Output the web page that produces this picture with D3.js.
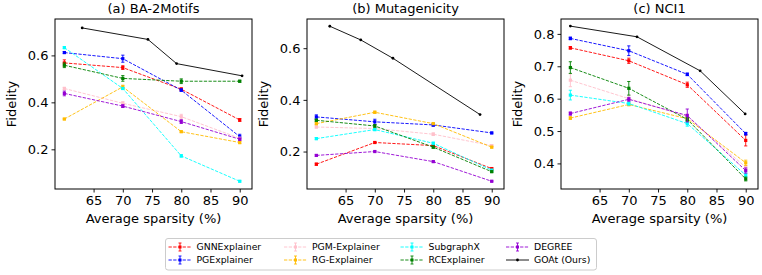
<!DOCTYPE html>
<html>
<head>
<meta charset="utf-8">
<script src="https://cdn.jsdelivr.net/npm/d3@7"></script>
<style>
  body { margin: 0; background: #fff; }
  text { font-family: "DejaVu Sans", sans-serif; }
</style>
</head>
<body>
<script>
const width = 762;
const height = 275;

const sparsity = [60, 70, 80, 90];
const methods = ["GNNExplainer", "PGExplainer", "PGM-Explainer", "RG-Explainer", "SubgraphX", "RCExplainer", "DEGREE"];
const colors = ["#ff0000", "#0000ff", "#ffc0cb", "#ffbb00", "#00ffff", "#008000", "#9400d3"];
const xTicks = [65, 70, 75, 80, 85, 90];

// (a) BA-2Motifs, rows follow methods
const baFidelity = [
  [0.568, 0.548, 0.456, 0.325],
  [0.612, 0.586, 0.452, 0.254],
  [0.459, 0.396, 0.339, 0.247],
  [0.329, 0.466, 0.275, 0.229],
  [0.633, 0.459, 0.172, 0.064],
  [0.558, 0.502, 0.490, 0.490],
  [0.438, 0.384, 0.318, 0.243]
];
const baError = [
  [0.013, 0.008, 0.006, 0.006],
  [0.004, 0.015, 0.005, 0.010],
  [0.005, 0.007, 0.010, 0.004],
  [0.003, 0.007, 0.003, 0.005],
  [0.004, 0.004, 0.005, 0.003],
  [0.010, 0.012, 0.010, 0.004],
  [0.010, 0.006, 0.008, 0.005]
];
const baGoatX = [63.05, 74.3, 79.2, 90.4];
const baGoatY = [0.717, 0.668, 0.565, 0.513];

// (b) Mutagenicity
const mutFidelity = [
  [0.151, 0.235, 0.223, 0.134],
  [0.334, 0.315, 0.303, 0.272],
  [0.295, 0.289, 0.267, 0.223],
  [0.308, 0.352, 0.308, 0.217],
  [0.250, 0.285, 0.232, 0.128],
  [0.321, 0.299, 0.217, 0.122],
  [0.185, 0.200, 0.161, 0.085]
];
const mutError = [
  [0.004, 0.003, 0.003, 0.003],
  [0.008, 0.010, 0.005, 0.003],
  [0.004, 0.003, 0.005, 0.003],
  [0.004, 0.004, 0.003, 0.003],
  [0.004, 0.004, 0.004, 0.003],
  [0.004, 0.005, 0.004, 0.003],
  [0.003, 0.002, 0.002, 0.002]
];
const mutGoatX = [62.3, 67.6, 73.1, 88.0];
const mutGoatY = [0.685, 0.632, 0.561, 0.343];

// (c) NCI1
const nciFidelity = [
  [0.757, 0.717, 0.643, 0.471],
  [0.786, 0.748, 0.675, 0.492],
  [0.657, 0.600, 0.545, 0.388],
  [0.540, 0.582, 0.538, 0.402],
  [0.611, 0.585, 0.523, 0.364],
  [0.696, 0.632, 0.536, 0.352],
  [0.554, 0.598, 0.548, 0.378]
];
const nciError = [
  [0.004, 0.008, 0.008, 0.017],
  [0.004, 0.015, 0.004, 0.004],
  [0.020, 0.010, 0.008, 0.005],
  [0.004, 0.004, 0.006, 0.008],
  [0.015, 0.005, 0.008, 0.006],
  [0.018, 0.021, 0.006, 0.006],
  [0.005, 0.006, 0.020, 0.008]
];
const nciGoatX = [60.0, 71.4, 82.2, 89.9];
const nciGoatY = [0.824, 0.791, 0.686, 0.553];

const panels = [
  { title: "(a) BA-2Motifs", left: 55, fid: baFidelity, err: baError, gx: baGoatX, gy: baGoatY,
    yDomain: [0.031, 0.755], yTicks: [0.2, 0.4, 0.6], labelX: 11 },
  { title: "(b) Mutagenicity", left: 307, fid: mutFidelity, err: mutError, gx: mutGoatX, gy: mutGoatY,
    yDomain: [0.055, 0.713], yTicks: [0.2, 0.4, 0.6], labelX: 263 },
  { title: "(c) NCI1", left: 561, fid: nciFidelity, err: nciError, gx: nciGoatX, gy: nciGoatY,
    yDomain: [0.321, 0.846], yTicks: [0.4, 0.5, 0.6, 0.7, 0.8], labelX: 517 }
];

const plotW = 197;
const plotTop = 19;
const plotBottom = 189;

const svg = d3.select("body").append("svg").attr("width", width).attr("height", height);

panels.forEach((p) => {
  const x = d3.scaleLinear().domain([58.4, 92.1]).range([p.left, p.left + plotW]);
  const y = d3.scaleLinear().domain(p.yDomain).range([plotBottom, plotTop]);
  const g = svg.append("g");

  // title
  g.append("text")
    .attr("x", p.left + plotW / 2)
    .attr("y", 13)
    .attr("text-anchor", "middle")
    .attr("font-size", "13px")
    .text(p.title);

  // axes
  const xAxis = g.append("g")
    .attr("transform", `translate(0,${plotBottom})`)
    .call(d3.axisBottom(x).tickValues(xTicks).tickSize(3.5).tickPadding(3));
  const yAxis = g.append("g")
    .attr("transform", `translate(${p.left},0)`)
    .call(d3.axisLeft(y).tickValues(p.yTicks).tickFormat(d3.format(".1f")).tickSize(3.5).tickPadding(3));
  [xAxis, yAxis].forEach((a) => {
    a.select(".domain").remove();
    a.selectAll("text").attr("font-size", "13px").attr("font-family", "DejaVu Sans").attr("fill", "#000");
    a.selectAll("line").attr("stroke", "#000").attr("stroke-width", 0.9);
  });

  g.append("text")
    .attr("x", p.left + plotW / 2)
    .attr("y", 223)
    .attr("text-anchor", "middle")
    .attr("font-size", "13px")
    .text("Average sparsity (%)");

  g.append("text")
    .attr("transform", `translate(${p.labelX},${(plotTop + plotBottom) / 2}) rotate(-90)`)
    .attr("text-anchor", "middle")
    .attr("dy", "0.35em")
    .attr("font-size", "13px")
    .text("Fidelity");

  const line = d3.line().x((d) => x(d[0])).y((d) => y(d[1]));

  // baseline methods
  p.fid.forEach((vals, i) => {
    const pts = sparsity.map((s, j) => [s, vals[j], p.err[i][j]]);
    const c = colors[i];
    g.append("path")
      .attr("d", line(pts))
      .attr("fill", "none")
      .attr("stroke", c)
      .attr("stroke-width", 0.9)
      .attr("stroke-dasharray", "3.3,1.4");
    const eb = g.selectAll(null).data(pts).enter().append("g");
    eb.append("line")
      .attr("x1", (d) => x(d[0])).attr("x2", (d) => x(d[0]))
      .attr("y1", (d) => y(d[1] - d[2])).attr("y2", (d) => y(d[1] + d[2]))
      .attr("stroke", c).attr("stroke-width", 0.9);
    [-1, 1].forEach((sgn) => {
      eb.append("line")
        .attr("x1", (d) => x(d[0]) - 1.6).attr("x2", (d) => x(d[0]) + 1.6)
        .attr("y1", (d) => y(d[1] + sgn * d[2])).attr("y2", (d) => y(d[1] + sgn * d[2]))
        .attr("stroke", c).attr("stroke-width", 0.9);
    });
    eb.append("rect")
      .attr("x", (d) => x(d[0]) - 1.6).attr("y", (d) => y(d[1]) - 1.6)
      .attr("width", 3.2).attr("height", 3.2)
      .attr("fill", c);
  });

  // GOAt (ours)
  const gp = p.gx.map((v, j) => [v, p.gy[j]]);
  g.append("path")
    .attr("d", line(gp))
    .attr("fill", "none")
    .attr("stroke", "#000")
    .attr("stroke-width", 0.9);
  g.selectAll(null).data(gp).enter().append("circle")
    .attr("cx", (d) => x(d[0])).attr("cy", (d) => y(d[1]))
    .attr("r", 1.4).attr("fill", "#000");

  // frame
  g.append("rect")
    .attr("x", p.left).attr("y", plotTop)
    .attr("width", plotW).attr("height", plotBottom - plotTop)
    .attr("fill", "none").attr("stroke", "#000").attr("stroke-width", 1);
});

// legend
const legend = svg.append("g");
legend.append("rect")
  .attr("x", 165.5).attr("y", 238.5).attr("width", 431).attr("height", 31.5)
  .attr("rx", 2.5).attr("fill", "#fff").attr("stroke", "#cccccc").attr("stroke-width", 1);

const legendNames = methods.concat(["GOAt (Ours)"]);
const legendColors = colors.concat(["#000"]);
const textX = [196.5, 312, 428.5, 534];
const rowY = [247, 260];

legendNames.forEach((name, k) => {
  const col = Math.floor(k / 2);
  const row = k % 2;
  const lx = textX[col] - 28;
  const ly = rowY[row];
  const item = legend.append("g");
  const c = legendColors[k];
  const isOurs = k === legendNames.length - 1;
  item.append("line")
    .attr("x1", lx).attr("x2", lx + 23).attr("y1", ly).attr("y2", ly)
    .attr("stroke", c).attr("stroke-width", 0.9)
    .attr("stroke-dasharray", isOurs ? null : "3.3,1.4");
  if (isOurs) {
    item.append("circle").attr("cx", lx + 11.5).attr("cy", ly).attr("r", 1.4).attr("fill", c);
  } else {
    item.append("line")
      .attr("x1", lx + 11.5).attr("x2", lx + 11.5).attr("y1", ly - 4).attr("y2", ly + 4)
      .attr("stroke", c).attr("stroke-width", 0.9);
    [-4, 4].forEach((o) => {
      item.append("line")
        .attr("x1", lx + 10).attr("x2", lx + 13).attr("y1", ly + o).attr("y2", ly + o)
        .attr("stroke", c).attr("stroke-width", 0.9);
    });
    item.append("rect")
      .attr("x", lx + 10).attr("y", ly - 1.5).attr("width", 3).attr("height", 3).attr("fill", c);
  }
  item.append("text")
    .attr("x", textX[col])
    .attr("y", ly)
    .attr("dy", "0.35em")
    .attr("font-size", "9.3px")
    .text(name);
});
</script>
</body>
</html>
